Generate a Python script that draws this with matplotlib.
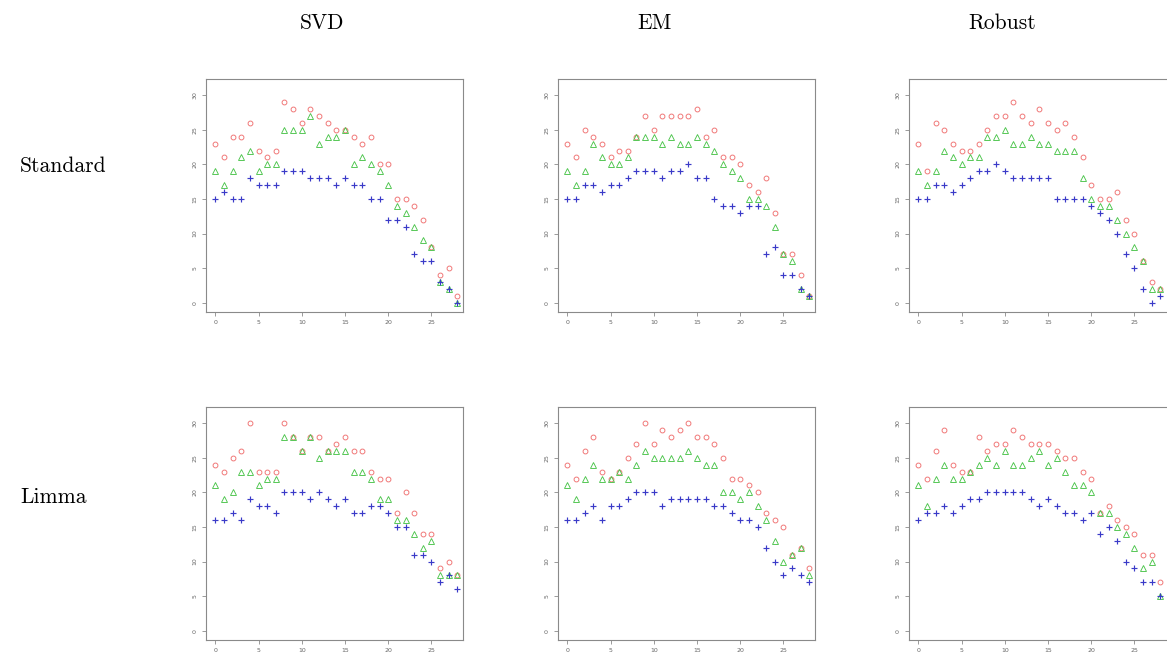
import matplotlib
matplotlib.use("Agg")
import matplotlib.pyplot as plt

# x positions shared by every panel
xs = list(range(29))

# Standard row
svd_std_circle = [23, 21, 24, 24, 26, 22, 21, 22, 29, 28, 26, 28, 27, 26, 25, 25, 24, 23, 24, 20, 20, 15, 15, 14, 12, 8, 4, 5, 1]
svd_std_triangle = [19, 17, 19, 21, 22, 19, 20, 20, 25, 25, 25, 27, 23, 24, 24, 25, 20, 21, 20, 19, 17, 14, 13, 11, 9, 8, 3, 2, 0]
svd_std_plus = [15, 16, 15, 15, 18, 17, 17, 17, 19, 19, 19, 18, 18, 18, 17, 18, 17, 17, 15, 15, 12, 12, 11, 7, 6, 6, 3, 2, 0]

em_std_circle = [23, 21, 25, 24, 23, 21, 22, 22, 24, 27, 25, 27, 27, 27, 27, 28, 24, 25, 21, 21, 20, 17, 16, 18, 13, 7, 7, 4, 1]
em_std_triangle = [19, 17, 19, 23, 21, 20, 20, 21, 24, 24, 24, 23, 24, 23, 23, 24, 23, 22, 20, 19, 18, 15, 15, 14, 11, 7, 6, 2, 1]
em_std_plus = [15, 15, 17, 17, 16, 17, 17, 18, 19, 19, 19, 18, 19, 19, 20, 18, 18, 15, 14, 14, 13, 14, 14, 7, 8, 4, 4, 2, 1]

rob_std_circle = [23, 19, 26, 25, 23, 22, 22, 23, 25, 27, 27, 29, 27, 26, 28, 26, 25, 26, 24, 21, 17, 15, 15, 16, 12, 10, 6, 3, 2]
rob_std_triangle = [19, 17, 19, 22, 21, 20, 21, 21, 24, 24, 25, 23, 23, 24, 23, 23, 22, 22, 22, 18, 15, 14, 14, 12, 10, 8, 6, 2, 2]
rob_std_plus = [15, 15, 17, 17, 16, 17, 18, 19, 19, 20, 19, 18, 18, 18, 18, 18, 15, 15, 15, 15, 14, 13, 12, 10, 7, 5, 2, 0, 1]

# Limma row
svd_lim_circle = [24, 23, 25, 26, 30, 23, 23, 23, 30, 28, 26, 28, 28, 26, 27, 28, 26, 26, 23, 22, 22, 17, 20, 17, 14, 14, 9, 10, 8]
svd_lim_triangle = [21, 19, 20, 23, 23, 21, 22, 22, 28, 28, 26, 28, 25, 26, 26, 26, 23, 23, 22, 19, 19, 16, 16, 14, 12, 13, 8, 8, 8]
svd_lim_plus = [16, 16, 17, 16, 19, 18, 18, 17, 20, 20, 20, 19, 20, 19, 18, 19, 17, 17, 18, 18, 17, 15, 15, 11, 11, 10, 7, 8, 6]

em_lim_circle = [24, 22, 26, 28, 23, 22, 23, 25, 27, 30, 27, 29, 28, 29, 30, 28, 28, 27, 25, 22, 22, 21, 20, 17, 16, 15, 11, 12, 9]
em_lim_triangle = [21, 19, 22, 24, 22, 22, 23, 22, 24, 26, 25, 25, 25, 25, 26, 25, 24, 24, 20, 20, 19, 20, 18, 16, 13, 10, 11, 12, 8]
em_lim_plus = [16, 16, 17, 18, 16, 18, 18, 19, 20, 20, 20, 18, 19, 19, 19, 19, 19, 18, 18, 17, 16, 16, 15, 12, 10, 8, 9, 8, 7]

rob_lim_circle = [24, 22, 26, 29, 24, 23, 23, 28, 26, 27, 27, 29, 28, 27, 27, 27, 26, 25, 25, 23, 22, 17, 18, 16, 15, 14, 11, 11, 7]
rob_lim_triangle = [21, 18, 22, 24, 22, 22, 23, 24, 25, 24, 26, 24, 24, 25, 26, 24, 25, 23, 21, 21, 20, 17, 17, 15, 14, 12, 9, 10, 5]
rob_lim_plus = [16, 17, 17, 18, 17, 18, 19, 19, 20, 20, 20, 20, 20, 19, 18, 19, 18, 17, 17, 16, 17, 14, 15, 13, 10, 9, 7, 7, 5]

col_titles = ["SVD", "EM", "Robust"]
row_titles = ["Standard", "Limma"]
x_ticks = [0, 5, 10, 15, 20, 25]
y_ticks = [0, 5, 10, 15, 20, 25, 30]

panels = [
    [(svd_std_circle, svd_std_triangle, svd_std_plus),
     (em_std_circle, em_std_triangle, em_std_plus),
     (rob_std_circle, rob_std_triangle, rob_std_plus)],
    [(svd_lim_circle, svd_lim_triangle, svd_lim_plus),
     (em_lim_circle, em_lim_triangle, em_lim_plus),
     (rob_lim_circle, rob_lim_triangle, rob_lim_plus)],
]

W, H = 1167, 666
fig = plt.figure(figsize=(W / 100, H / 100), dpi=100)

# panel frames in pixels (left, top); all panels are the same size
lefts = [206, 558, 909]
tops = [79, 407]
pw, ph = 257, 233

frame_col = "#8a8a8a"
label_col = "#666666"

for r, top in enumerate(tops):
    for c, left in enumerate(lefts):
        # the last column runs off the right edge of the page, as in the original
        w = pw + 3 if c == 2 else pw
        ax = fig.add_axes([left / W, 1 - (top + ph) / H, w / W, ph / H])
        circ, tri, plus = panels[r][c]
        ax.plot(xs, circ, linestyle="none", marker="o", ms=3.5, mfc="none",
                mec="#f07070", mew=0.65)
        ax.plot(xs, tri, linestyle="none", marker="^", ms=3.7, mfc="none",
                mec="#4cc44c", mew=0.65)
        ax.plot(xs, plus, linestyle="none", marker="+", ms=5, mec="#3a3ac8", mew=0.85)
        ax.set_xlim(-1.08, 28.65 + (28.65 + 1.08) * (w - pw) / pw)
        ax.set_ylim(-1.35, 32.35)
        ax.set_xticks(x_ticks)
        ax.set_yticks(y_ticks)
        ax.tick_params(length=3, width=0.6, color=frame_col, labelsize=4.5,
                       labelcolor=label_col, pad=3)
        for lab in ax.get_yticklabels():
            lab.set_rotation(90)
            lab.set_va("center")
        for s in ax.spines.values():
            s.set_color(frame_col)
            s.set_linewidth(0.8)

title_x = [322, 655, 1002]
for tx, t in zip(title_x, col_titles):
    fig.text(tx / W, 1 - 23 / H, t, ha="center", va="center",
             fontsize=15.5, family="cmr10")

row_y = [166, 497]
for ry, t in zip(row_y, row_titles):
    fig.text(20 / W, 1 - ry / H, t, ha="left", va="center",
             fontsize=15.5, family="cmr10")

fig.savefig("out.png", dpi=100)
